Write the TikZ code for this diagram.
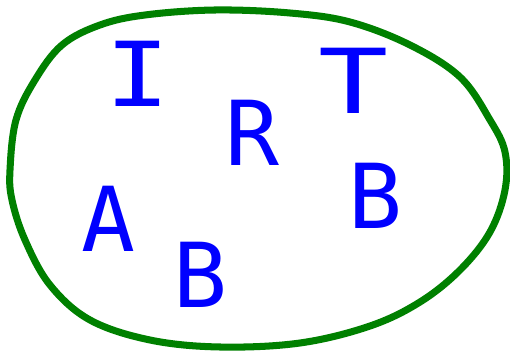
\documentclass[tikz,border=0pt]{standalone}
\usepackage{fontspec}
\setmainfont{DejaVu Sans Mono}
\usepackage{tikz}
\usetikzlibrary{positioning, calc}
\definecolor{setgreen}{RGB}{0, 128, 0}
\definecolor{letterblue}{RGB}{0, 0, 255}

\begin{document}
\begin{tikzpicture}[x=0.02cm, y=-0.02cm,
    letter/.style={letterblue, font=\fontsize{51}{53}\selectfont, inner sep=0pt}]
    \useasboundingbox (0,0) rectangle (510,354);
    % the set
    \draw[setgreen, line width=4pt, line join=round]
        plot[smooth cycle, tension=0.6] coordinates {
        (10,170) (16,120) (35,80) (62,45) (100,25) (145,15) (215,10)
        (290,13) (350,22) (410,45) (460,77) (490,120) (505,152)
        (505,190) (490,232) (460,270) (420,302) (370,326) (300,343)
        (220,347) (150,340) (90,320) (50,285) (25,240) (12,200)};
    % the elements
    \node[letter, xscale=1.2] (I)  at (138,74)  {I};
    \node[letter] (R)  at (252,133) {R};
    \node[letter, xscale=1.3] (T)  at (354,81)  {T};
    \node[letter] (B1) at (375,196) {B};
    \node[letter] (A)  at (108,219) {A};
    \node[letter] (B2) at (200,275) {B};
\end{tikzpicture}
\end{document}
